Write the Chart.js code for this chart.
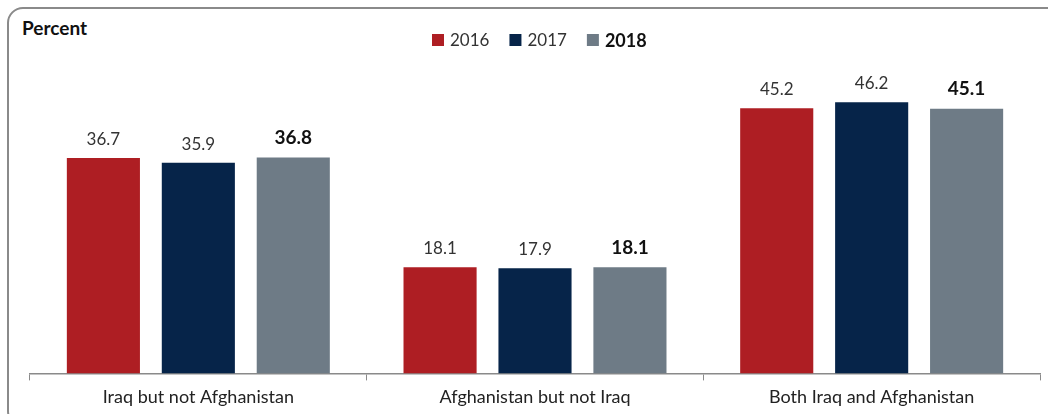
<!DOCTYPE html>
<html>
<head>
<meta charset="utf-8">
<script src="https://cdn.jsdelivr.net/npm/chart.js@4"></script>
<style>
    html, body { margin: 0; padding: 0; background: #fff; overflow: hidden; }
    #wrap { position: relative; width: 1048px; height: 414px; }
    #frame {
        position: absolute; left: 7px; top: 7px; width: 1060px; height: 420px;
        border: 2px solid #8a8a8a; border-radius: 16px; box-sizing: border-box;
    }
    #titulo {
        position: absolute; left: 22px; top: 16px;
        font: bold 19px Lato, sans-serif; color: #111;
    }
    canvas { position: absolute; left: 0; top: 0; }
</style>
</head>
<body>
<div id="wrap">
    <div id="frame"></div>
    <div id="titulo">Percent</div>
    <canvas id="grafico" width="1048" height="414"></canvas>
</div>
<script>
const categorias = ['Iraq but not Afghanistan', 'Afghanistan but not Iraq', 'Both Iraq and Afghanistan'];
const anos = ['2016', '2017', '2018'];
const valores2016 = [36.7, 18.1, 45.2];
const valores2017 = [35.9, 17.9, 46.2];
const valores2018 = [36.8, 18.1, 45.1];
const cores = ['#ae1e23', '#062449', '#6e7b86'];

const fonte = 'Lato, sans-serif';

// rotulos em cima das barras, 2018 em negrito
const pluginRotulos = {
    id: 'rotulos',
    afterDatasetsDraw(chart) {
        const ctx = chart.ctx;
        ctx.save();
        ctx.textAlign = 'center';
        ctx.textBaseline = 'bottom';
        chart.data.datasets.forEach((ds, i) => {
            const meta = chart.getDatasetMeta(i);
            const negrito = i === 2;
            ctx.font = (negrito ? 'bold 19px ' : '17px ') + fonte;
            ctx.fillStyle = negrito ? '#111' : '#333';
            meta.data.forEach((bar, j) => {
                ctx.fillText(ds.data[j].toFixed(1), bar.x, bar.y - 10);
            });
        });
        ctx.restore();
    }
};

// legenda desenhada a mao para deixar 2018 em negrito
const pluginLegenda = {
    id: 'legendaCustom',
    afterDraw(chart) {
        const ctx = chart.ctx;
        ctx.save();
        ctx.textBaseline = 'middle';
        let x = 432;
        const y = 40;
        anos.forEach((ano, i) => {
            ctx.fillStyle = cores[i];
            ctx.fillRect(x, y - 6, 12, 12);
            ctx.font = (i === 2 ? 'bold 18px ' : '17px ') + fonte;
            ctx.fillStyle = i === 2 ? '#111' : '#333';
            ctx.fillText(ano, x + 18, y + 1);
            x += 18 + ctx.measureText(ano).width + 20;
        });
        ctx.restore();
    }
};

const dadosSeries = [valores2016, valores2017, valores2018];

new Chart(document.getElementById('grafico'), {
    type: 'bar',
    data: {
        labels: categorias,
        datasets: anos.map((ano, i) => ({
            label: ano,
            data: dadosSeries[i],
            backgroundColor: cores[i],
            categoryPercentage: 0.846,
            barPercentage: 0.77
        }))
    },
    options: {
        responsive: false,
        animation: false,
        layout: { padding: { left: 30, right: 8, top: 60, bottom: 0 } },
        plugins: {
            legend: { display: false },
            tooltip: { enabled: false }
        },
        scales: {
            x: {
                grid: {
                    offset: true,
                    drawOnChartArea: false,
                    tickLength: 7,
                    tickColor: '#8a8a8a'
                },
                border: { color: '#8a8a8a', width: 1.5 },
                ticks: {
                    color: '#222',
                    font: { family: fonte, size: 18 },
                    padding: 6
                }
            },
            y: {
                display: false,
                min: 0,
                max: 53.4
            }
        }
    },
    plugins: [pluginRotulos, pluginLegenda]
});
</script>
</body>
</html>
